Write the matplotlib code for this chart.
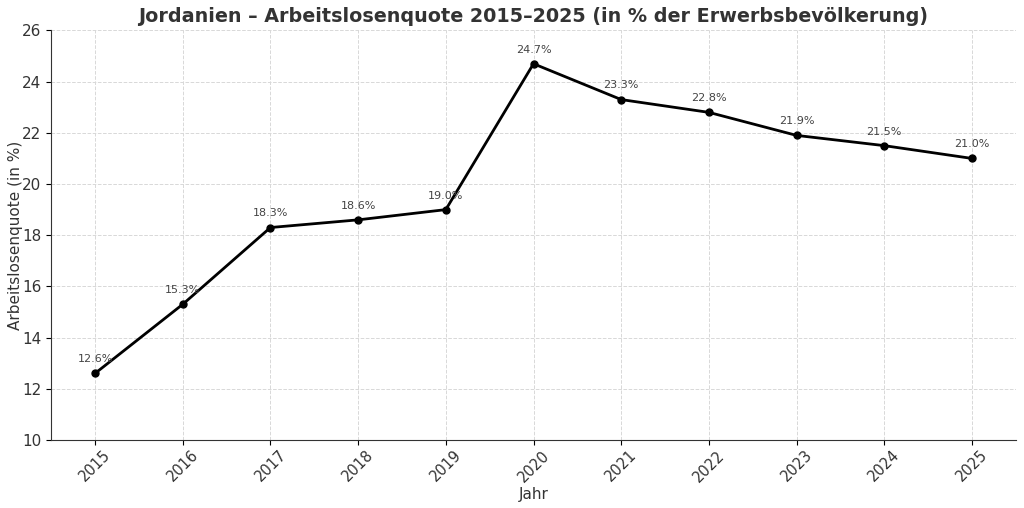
import matplotlib.pyplot as plt

jahre = [2015, 2016, 2017, 2018, 2019, 2020, 2021, 2022, 2023, 2024, 2025]
quote = [12.6, 15.3, 18.3, 18.6, 19.0, 24.7, 23.3, 22.8, 21.9, 21.5, 21.0]

fig, ax = plt.subplots(figsize=(10.24, 5.08), dpi=100)
fig.subplots_adjust(left=0.05, right=0.992, top=0.94, bottom=0.134)

ax.plot(jahre, quote, color='black', linewidth=2, marker='o', markersize=5)

# Werte über den Punkten
for x, y in zip(jahre, quote):
    ax.annotate(f'{y:.1f}%', (x, y), textcoords='offset points', xytext=(0, 8),
                ha='center', fontsize=8, color='#444444')

ax.set_xlim(2014.5, 2025.5)
ax.set_ylim(10, 26)
ax.set_xticks(jahre)
ax.set_xticklabels([str(j) for j in jahre], rotation=45, fontsize=10.5, color='#333333')
ax.set_yticks(range(10, 27, 2))
ax.tick_params(axis='y', labelsize=11, labelcolor='#333333')
ax.tick_params(axis='x', pad=2)
ax.grid(True, linestyle='--', color='#d8d8d8', linewidth=0.7)
ax.spines['top'].set_visible(False)
ax.spines['right'].set_visible(False)
ax.spines['left'].set_color('#333333')
ax.spines['bottom'].set_color('#333333')

ax.set_title('Jordanien – Arbeitslosenquote 2015–2025 (in % der Erwerbsbevölkerung)',
             fontsize=13.8, fontweight='bold', color='#333333')
ax.set_xlabel('Jahr', fontsize=11, color='#333333', labelpad=2)
ax.set_ylabel('Arbeitslosenquote (in %)', fontsize=11, color='#333333', labelpad=-1)

fig.savefig('out.png')
